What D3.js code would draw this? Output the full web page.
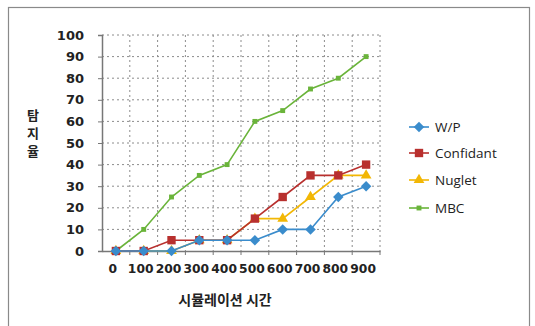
<!DOCTYPE html>
<html>
<head>
<meta charset="utf-8">
<script src="https://cdn.jsdelivr.net/npm/d3@7"></script>
<style>
  body { margin: 0; background: #fff; }
  text { font-family: "Noto Sans CJK KR", "Noto Sans", sans-serif; }
</style>
</head>
<body>
<script>
var width = 535,
    height = 326;

var times = ["0", "100", "200", "300", "400", "500", "600", "700", "800", "900"];
var yTicks = [0, 10, 20, 30, 40, 50, 60, 70, 80, 90, 100];
var seriesNames = ["W/P", "Confidant", "Nuglet", "MBC"];
var wp = [0, 0, 0, 5, 5, 5, 10, 10, 25, 30];
var confidant = [0, 0, 5, 5, 5, 15, 25, 35, 35, 40];
var nuglet = [0, 0, 0, 5, 5, 15, 15, 25, 35, 35];
var mbc = [0, 10, 25, 35, 40, 60, 65, 75, 80, 90];

var colors = ["#3a8ccc", "#b8302e", "#f2b705", "#6ab43a"];
var shapes = [d3.symbolSquare, d3.symbolSquare, d3.symbolTriangle, d3.symbolSquare];
var sizes = [55, 70, 50, 24];
var rotate = [45, 0, 0, 0];

var allSeries = [wp, confidant, nuglet, mbc];
// draw order: MBC under, W/P on top like the picture
var drawOrder = [3, 2, 1, 0];

var svg = d3.select("body").append("svg")
               .attr("width", width)
               .attr("height", height);

// outer frame
svg.append("rect")
   .attr("x", 8.5).attr("y", 7.5)
   .attr("width", 521).attr("height", 330)
   .attr("fill", "none")
   .attr("stroke", "#8a8a8a")
   .attr("stroke-width", 1.2);

var x = d3.scaleBand()
          .domain(times)
          .range([102, 380]);

var y = d3.scaleLinear()
          .domain([0, 100])
          .range([251, 35]);

// gridlines
svg.append("g").selectAll("line")
   .data(yTicks.slice(1))
   .enter().append("line")
   .attr("x1", 102).attr("x2", 380)
   .attr("y1", function(d){ return y(d); })
   .attr("y2", function(d){ return y(d); })
   .attr("stroke", "#8c8c8c")
   .attr("stroke-dasharray", "2,3");

svg.append("g").selectAll("line")
   .data(times.slice(1).concat(["end"]))
   .enter().append("line")
   .attr("x1", function(d){ return d == "end" ? 380 : x(d); })
   .attr("x2", function(d){ return d == "end" ? 380 : x(d); })
   .attr("y1", 35).attr("y2", 251)
   .attr("stroke", "#8c8c8c")
   .attr("stroke-dasharray", "2,3");

// axes
var yAxis = svg.append("g")
   .attr("transform", "translate(102,0)")
   .call(d3.axisLeft(y).tickValues(yTicks).tickSize(4).tickPadding(14));
var xAxis = svg.append("g")
   .attr("transform", "translate(0,251)")
   .call(d3.axisBottom(x).tickSize(0).tickPadding(13));

[yAxis, xAxis].forEach(function(a){
  a.select(".domain").attr("stroke", "#777").attr("stroke-width", 1.5);
  a.selectAll(".tick line").attr("stroke", "#777");
  a.selectAll(".tick text")
   .attr("fill", "#222")
   .style("font-family", "'DejaVu Sans', sans-serif")
   .style("font-weight", "bold")
   .style("font-size", "13px");
});
xAxis.selectAll(".tick text")
   .style("font-size", "12.3px")
   .attr("dx", -3);
// x axis minor ticks at band edges
svg.append("g").selectAll("line")
   .data(times.slice(1).concat(["end"]))
   .enter().append("line")
   .attr("x1", function(d){ return d == "end" ? 380 : x(d); })
   .attr("x2", function(d){ return d == "end" ? 380 : x(d); })
   .attr("y1", 251).attr("y2", 255)
   .attr("stroke", "#777");

// lines + markers
var line = d3.line()
             .x(function(d, i){ return x(times[i]) + x.bandwidth() / 2; })
             .y(function(d){ return y(d); });

drawOrder.forEach(function(k){
  var g = svg.append("g");
  g.append("path")
   .attr("d", line(allSeries[k]))
   .attr("fill", "none")
   .attr("stroke", colors[k])
   .attr("stroke-width", 1.6);
  g.selectAll("path.pt")
   .data(allSeries[k])
   .enter().append("path")
   .attr("class", "pt")
   .attr("d", d3.symbol().type(shapes[k]).size(sizes[k]))
   .attr("transform", function(d, i){
      return "translate(" + (x(times[i]) + x.bandwidth() / 2) + "," + y(d) + ") rotate(" + rotate[k] + ")";
   })
   .attr("fill", colors[k]);
});

// axis titles
svg.append("text")
   .attr("x", 225).attr("y", 305)
   .attr("text-anchor", "middle")
   .style("font-size", "14px")
   .style("font-weight", "bold")
   .attr("fill", "#222")
   .text("시뮬레이션 시간");

var yTitle = svg.append("text")
   .attr("text-anchor", "middle")
   .style("font-size", "13px")
   .style("font-weight", "bold")
   .attr("fill", "#222");
["탐", "지", "율"].forEach(function(c, i){
  yTitle.append("tspan").attr("x", 33).attr("y", 120 + i * 18).text(c);
});

// legend
var legend = svg.append("g").selectAll("g")
   .data(seriesNames)
   .enter().append("g")
   .attr("transform", function(d, i){ return "translate(419," + [127, 153, 180, 208][i] + ")"; });
legend.append("line")
   .attr("x1", -10).attr("x2", 10)
   .attr("stroke", function(d, i){ return colors[i]; })
   .attr("stroke-width", 1.6);
legend.append("path")
   .attr("d", function(d, i){ return d3.symbol().type(shapes[i]).size(sizes[i])(); })
   .attr("transform", function(d, i){ return "rotate(" + rotate[i] + ")"; })
   .attr("fill", function(d, i){ return colors[i]; });
legend.append("text")
   .attr("x", 16).attr("y", 5)
   .style("font-family", "'Open Sans', 'Noto Sans', sans-serif")
   .style("font-size", "13.5px")
   .attr("fill", "#222")
   .text(function(d){ return d; });
</script>
</body>
</html>
